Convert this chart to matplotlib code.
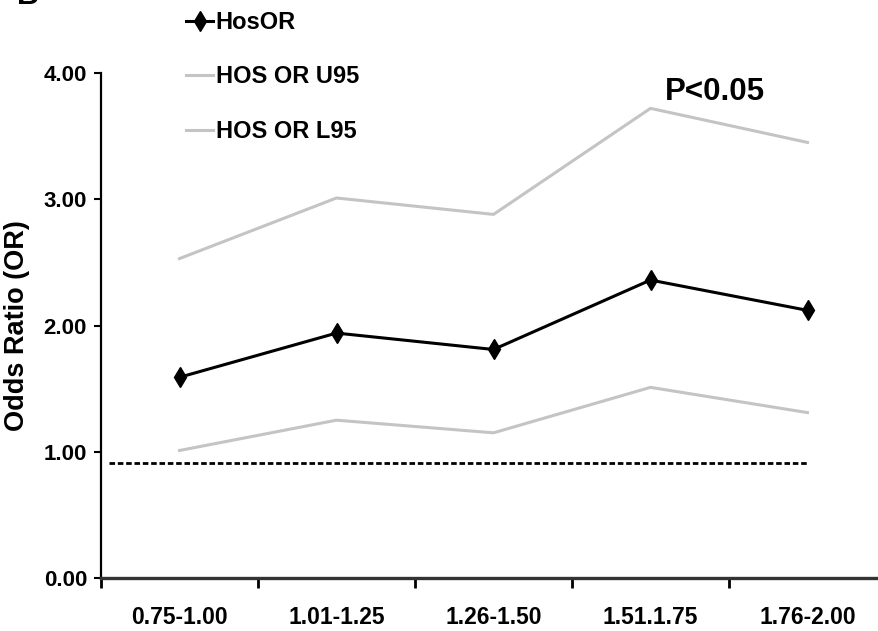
import matplotlib
matplotlib.use("Agg")
import matplotlib.pyplot as plt

categories = ["0.75-1.00", "1.01-1.25", "1.26-1.50", "1.51.1.75", "1.76-2.00"]
hos_or = [1.59, 1.94, 1.81, 2.36, 2.12]
hos_u95 = [2.53, 3.01, 2.88, 3.72, 3.45]
hos_l95 = [1.01, 1.25, 1.15, 1.51, 1.31]
ref_value = 0.91
y_ticks = [0, 1, 2, 3, 4]
y_ticklabels = ["0.00", "1.00", "2.00", "3.00", "4.00"]

font = "Liberation Sans"

W, H = 879, 631
fig = plt.figure(figsize=(W / 100, H / 100), dpi=100)
ax = fig.add_axes([101 / W, 53 / H, 785 / W, 505 / H])

x = list(range(len(categories)))
ax.plot(x, hos_or, color="black", lw=2.2, marker="d", markersize=10,
        markerfacecolor="black", markeredgecolor="black", label="HosOR", zorder=4)
ax.plot(x, hos_u95, color="#c4c4c4", lw=2.2, label="HOS OR U95", zorder=3)
ax.plot(x, hos_l95, color="#c4c4c4", lw=2.2, label="HOS OR L95", zorder=3)
ax.hlines(ref_value, -0.45, len(categories) - 1, colors="black", lw=2.0,
          linestyles=(0, (2, 1)), zorder=2)

ax.set_xlim(-0.5, len(categories) - 0.5)
ax.set_ylim(0, 4)

ax.set_yticks(y_ticks)
ax.set_yticklabels(y_ticklabels, fontfamily=font, fontweight="bold", fontsize=16)
ax.set_xticks(x)
ax.set_xticklabels(categories, fontfamily=font, fontweight="bold", fontsize=16.5)
ax.tick_params(axis="x", which="major", length=0, pad=20)
ax.set_xticks([i - 0.5 for i in range(len(categories))], minor=True)
ax.tick_params(axis="x", which="minor", length=7, width=2, direction="out")
ax.tick_params(axis="y", length=5, width=1.5, direction="out", pad=5)

for s in ["top", "right"]:
    ax.spines[s].set_visible(False)
ax.spines["left"].set_linewidth(1.6)
ax.spines["bottom"].set_linewidth(2.4)
ax.spines["bottom"].set_color("#333333")

ax.set_ylabel("Odds Ratio (OR)", fontfamily=font, fontweight="bold", fontsize=19.5, labelpad=10)

ax.text(3.41, 3.85, "P<0.05", fontfamily=font, fontweight="bold", fontsize=22.5,
        ha="center", va="center")

leg = fig.legend(loc="upper left", bbox_to_anchor=(186 / W, 1 - 11 / H),
                 frameon=False, prop={"family": font, "weight": "bold", "size": 17},
                 handlelength=1.15, handletextpad=0.1, labelspacing=1.33, borderpad=0,
                 borderaxespad=0)

fig.text(17 / W, 1 - 4 / H, "B", fontfamily=font, fontweight="bold", fontsize=22,
         va="baseline", ha="left")

fig.savefig("out.png", dpi=100)
